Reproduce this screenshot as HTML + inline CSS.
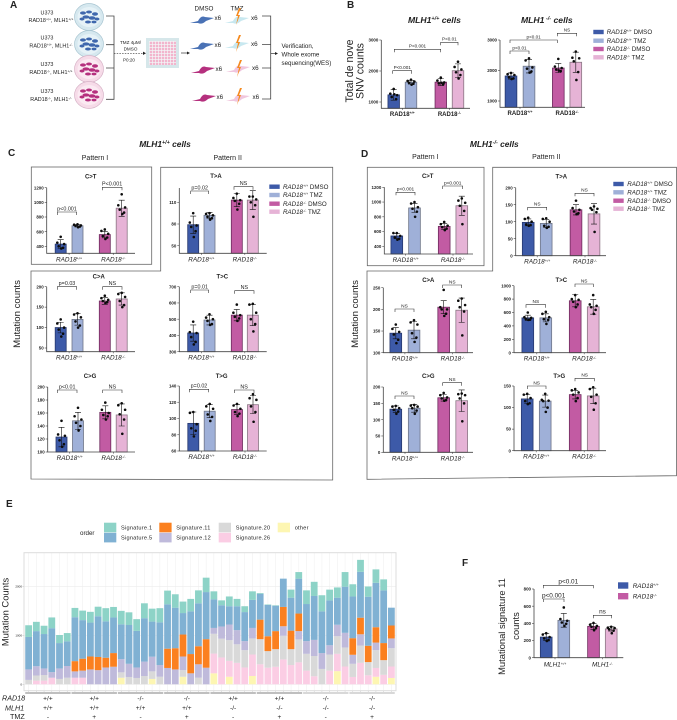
<!DOCTYPE html>
<html lang="en">
<head>
<meta charset="utf-8">
<title>RAD18 MLH1 mutation figure</title>
<style>
html,body{margin:0;padding:0;background:#fff;width:677px;height:720px;overflow:hidden}
svg{display:block;font-family:"Liberation Sans",sans-serif;filter:blur(.3px)}
text{fill:#222}
</style>
</head>
<body>
<svg id="figure" xmlns="http://www.w3.org/2000/svg" width="677" height="720" viewBox="0 0 677 720">
<defs>
<pattern id="wells" width="3" height="3" patternUnits="userSpaceOnUse"><rect width="3" height="3" fill="#f3f7f8"/><rect width="2.3" height="2.3" fill="#f2b5cd"/></pattern>
<g id="blue-dish"><ellipse rx="14.5" ry="13.5" fill="#d6e8ef" stroke="#a9c6d2" stroke-width=".7"/><ellipse rx="11.5" ry="10" fill="#e6f2f7"/><g fill="#3f67ad"><ellipse cx="-6" cy="-4" rx="3" ry="1.6"/><ellipse cx="0" cy="-5" rx="3" ry="1.5"/><ellipse cx="6" cy="-3" rx="3" ry="1.7"/><ellipse cx="-3" cy="0" rx="3.5" ry="1.6"/><ellipse cx="3" cy="1" rx="3.5" ry="1.7"/><ellipse cx="8" cy="2" rx="2.5" ry="1.5"/><ellipse cx="-7" cy="2" rx="2.5" ry="1.5"/><ellipse cx="-1" cy="5" rx="3" ry="1.5"/><ellipse cx="5" cy="5" rx="2.5" ry="1.4"/></g></g>
<g id="pink-dish"><ellipse rx="14.5" ry="13.5" fill="#f6dbe8" stroke="#d7b3c7" stroke-width=".7"/><ellipse rx="11.5" ry="10" fill="#fbeaf2"/><g fill="#b5307e"><ellipse cx="-6" cy="-4" rx="3" ry="1.6"/><ellipse cx="0" cy="-5" rx="3" ry="1.5"/><ellipse cx="6" cy="-3" rx="3" ry="1.7"/><ellipse cx="-3" cy="0" rx="3.5" ry="1.6"/><ellipse cx="3" cy="1" rx="3.5" ry="1.7"/><ellipse cx="8" cy="2" rx="2.5" ry="1.5"/><ellipse cx="-7" cy="2" rx="2.5" ry="1.5"/><ellipse cx="-1" cy="5" rx="3" ry="1.5"/><ellipse cx="5" cy="5" rx="2.5" ry="1.4"/></g></g>
<path id="spindle" d="M-12,3 L-4,1 Q-1,-5 3,-3 L12,-2 L4,1 Q0,5 -4,3 Z"/>
<path id="bolt" d="M1,-9 L-2,-1 L0,-1 L-2,8 L2,-2 L0,-2 L3,-9 Z" fill="#f58a1f"/>
</defs>

<g>
<text x="10" y="8" font-size="10" font-weight="bold">A</text>
<g font-size="5.4" text-anchor="middle" fill="#333">
<text x="47" y="14.5">U373</text><text x="51" y="22">RAD18<tspan font-size="3.5" dy="-1.5">+/+</tspan><tspan dy="1.5">, MLH1</tspan><tspan font-size="3.5" dy="-1.5">+/+</tspan></text>
<text x="47" y="39.5">U373</text><text x="51" y="47.5">RAD18<tspan font-size="3.5" dy="-1.5">+/+</tspan><tspan dy="1.5">, MLH1</tspan><tspan font-size="3.5" dy="-1.5">-/-</tspan></text>
<text x="47" y="66">U373</text><text x="51" y="74">RAD18<tspan font-size="3.5" dy="-1.5">-/-</tspan><tspan dy="1.5">, MLH1</tspan><tspan font-size="3.5" dy="-1.5">+/+</tspan></text>
<text x="47" y="93">U373</text><text x="51" y="101">RAD18<tspan font-size="3.5" dy="-1.5">-/-</tspan><tspan dy="1.5">, MLH1</tspan><tspan font-size="3.5" dy="-1.5">-/-</tspan></text>
</g>
<use href="#blue-dish" x="89" y="17"/>
<use href="#blue-dish" x="89" y="44"/>
<use href="#pink-dish" x="89" y="69"/>
<use href="#pink-dish" x="89" y="95"/>
<path d="M106,16H114V99.3H106M106,44.7H114M106,68H114" fill="none" stroke="#444" stroke-width=".8"/>
<path d="M114,53.3H143" stroke="#333" stroke-width=".7" stroke-dasharray="1.5 1.2"/>
<path d="M143,51.6L146,53.3L143,55Z" fill="#222"/>
<g font-size="4.6" text-anchor="middle"><text x="130.5" y="44">TMZ 4μM/</text><text x="130.5" y="50.5">DMSO</text><text x="129" y="61.5">P0:20</text></g>
<rect x="146" y="38" width="33" height="30" fill="#d6e7ea"/>
<rect x="149" y="41" width="27" height="24" fill="url(#wells)"/>
<path d="M181,53H187" stroke="#333" stroke-width=".7"/><path d="M187,51.5L190,53L187,54.5Z" fill="#222"/>
<text x="204" y="10.5" font-size="6.3" text-anchor="middle">DMSO</text>
<text x="237" y="10.5" font-size="6.3" text-anchor="middle">TMZ</text>
<g>
<use href="#spindle" x="202" y="20" fill="#4a72b5"/><use href="#spindle" x="202" y="46" fill="#4a72b5"/><use href="#spindle" x="203" y="70" fill="#b5307e"/><use href="#spindle" x="204" y="98" fill="#b5307e"/>
<use href="#spindle" x="237" y="20" fill="#c8e8f0"/><use href="#spindle" x="237" y="45" fill="#c8e8f0"/><use href="#spindle" x="238" y="69" fill="#f0c6de"/><use href="#spindle" x="238" y="98" fill="#f0c6de"/>
<use href="#bolt" x="238" y="17"/><use href="#bolt" x="238" y="44"/><use href="#bolt" x="239" y="69"/><use href="#bolt" x="239" y="97"/>
</g>
<g font-size="6.3">
<text x="214.5" y="20">x6</text><text x="214.5" y="47">x6</text><text x="215.5" y="71">x6</text><text x="216.5" y="99">x6</text>
<text x="251" y="20">x6</text><text x="251" y="46">x6</text><text x="252" y="70">x6</text><text x="252.5" y="99">x6</text></g>
<path d="M262,16H270.7V99H262M262,44.5H270.7M262,68H270.7" fill="none" stroke="#444" stroke-width=".8"/>
<path d="M270.7,53.5H275" stroke="#333" stroke-width=".7"/><path d="M275,52L278,53.5L275,55Z" fill="#222"/>
<g font-size="6.2"><text x="281.5" y="48">Verification,</text><text x="281.5" y="56.5">Whole exome</text><text x="281.5" y="65">sequencing(WES)</text></g>
</g>

<text x="347" y="8" font-size="10" font-weight="bold">B</text>
<text x="408" y="23" font-size="8.6" font-weight="bold" font-style="italic">MLH1<tspan font-size="5.5" dy="-3">+/+</tspan><tspan dy="3"> cells</tspan></text>
<text x="521" y="23" font-size="8.6" font-weight="bold" font-style="italic">MLH1<tspan font-size="5.5" dy="-3"> -/-</tspan><tspan dy="3"> cells</tspan></text>
<text transform="translate(353,71) rotate(-90)" font-size="10.6" text-anchor="middle">Total de nove</text>
<text transform="translate(363.5,71) rotate(-90)" font-size="10.6" text-anchor="middle">SNV counts</text>

<text x="8" y="156" font-size="10" font-weight="bold">C</text>
<text x="165" y="147" font-size="8.4" font-weight="bold" font-style="italic" text-anchor="middle">MLH1<tspan font-size="5.4" dy="-3">+/+</tspan><tspan dy="3"> cells</tspan></text>
<text x="95" y="160" font-size="7" text-anchor="middle" fill="#444">Pattern I</text>
<text x="227.7" y="160" font-size="7" text-anchor="middle" fill="#444">Pattern II</text>
<rect x="31.3" y="167" width="120.4" height="97.3" fill="none" stroke="#666" stroke-width=".8"/>
<path d="M160.7,167.3H332.7V480L31,479V271H160.7Z" fill="none" stroke="#666" stroke-width=".8"/>
<text transform="translate(20,314) rotate(-90)" font-size="9.6" text-anchor="middle" fill="#333">Mutation counts</text>

<text x="361" y="157" font-size="10" font-weight="bold">D</text>
<text x="494.3" y="147" font-size="8.4" font-weight="bold" font-style="italic" text-anchor="middle">MLH1<tspan font-size="5.4" dy="-3">-/-</tspan><tspan dy="3"> cells</tspan></text>
<text x="425.3" y="159" font-size="7" text-anchor="middle" fill="#444">Pattern I</text>
<text x="546.3" y="159" font-size="7" text-anchor="middle" fill="#444">Pattern II</text>
<rect x="367.3" y="167.3" width="116.7" height="98.4" fill="none" stroke="#666" stroke-width=".8"/>
<path d="M492.7,167.3H676.5V475.7L367,479.3V271H492.7Z" fill="none" stroke="#666" stroke-width=".8"/>
<text transform="translate(358,314) rotate(-90)" font-size="9.6" text-anchor="middle" fill="#333">Mutation counts</text>

<text x="6" y="507" font-size="10" font-weight="bold">E</text>
<text x="462" y="566" font-size="10" font-weight="bold">F</text>
<text transform="translate(5.5,612) rotate(-90)" font-size="9.4" text-anchor="middle" dy="3">Mutation Counts</text>
<g font-size="7.2" font-style="italic"><text x="2" y="700.5">RAD18</text><text x="5" y="710.5">MLH1</text><text x="10" y="719" font-style="normal">TMZ</text></g>
<text x="80" y="535" font-size="6.2">order</text>
<text transform="translate(505,626.5) rotate(-90)" font-size="9.4" text-anchor="middle">Mutational signature 11</text>
<text transform="translate(519,626) rotate(-90)" font-size="9.4" text-anchor="middle">counts</text>
<g id="charts"></g>
</svg>

<script>
/* ---------- shared categories ---------- */
const conditionNames = ['rad18-wt-dmso', 'rad18-wt-tmz', 'rad18-ko-dmso', 'rad18-ko-tmz'];
const groupLabels = ['+/+', '-/-'];

/* ---------- Panel B ---------- */
const bWtTicks = [1000, 2000, 3000];
const bWtMeans = [1230, 1640, 1640, 2010];
const bWtErrors = [170, 60, 110, 220];
const bWtDots = [[1420,1270,1220,1160,1090,1250],[1720,1680,1660,1620,1590,1560],[1790,1690,1630,1600,1570,1620],[2300,2130,2050,1960,1870,1760]];
const bKoTicks = [1000, 2000, 3000];
const bKoMeans = [1820, 2140, 2080, 2270];
const bKoErrors = [100, 220, 150, 330];
const bKoDots = [[1920,1880,1850,1780,1740,1720],[2400,2330,2100,2060,1970,1930],[2380,2130,2080,2030,1980,2000],[2620,2420,2400,2300,1950,1690]];

/* ---------- Panel C ---------- */
const cCtTicks = [400, 600, 800, 1000, 1200];
const cCtMeans = [430, 680, 560, 920];
const cCtErrors = [60, 15, 45, 110];
const cCtDots = [[530,450,430,400,380,370],[700,695,685,680,670,660],[630,610,570,540,520,500],[1110,960,930,900,860,840]];
const cTaTicks = [50, 80, 110];
const cTaMeans = [79, 92, 113, 113];
const cTaErrors = [12, 4, 9, 13];
const cTaDots = [[95,82,78,76,70,62],[95,94,92,90,88,86],[122,116,113,112,108,100],[118,118,114,110,106,90]];
const cCaTicks = [50, 100, 150, 200];
const cCaMeans = [100, 120, 165, 170];
const cCaErrors = [13, 14, 8, 15];
const cCaDots = [[120,110,100,95,85,78],[135,132,125,115,105,100],[178,172,168,165,162,160],[185,182,175,165,155,150]];
const cTcTicks = [300, 400, 500, 600, 700];
const cTcMeans = [415, 495, 525, 525];
const cTcErrors = [50, 30, 35, 65];
const cTcDots = [[485,420,415,390,360,345],[530,510,500,490,470,465],[590,540,525,515,505,490],[595,590,540,500,470,425]];
const cCgTicks = [100, 120, 140, 160, 180, 200];
const cCgMeans = [123, 148, 161, 157];
const cCgErrors = [15, 13, 10, 17];
const cCgDots = [[148,127,125,118,112,108],[168,155,150,145,140,133],[176,165,160,157,155,150],[175,172,165,158,150,128]];
const cTgTicks = [60, 80, 100, 120, 140];
const cTgMeans = [94, 109, 111, 117];
const cTgErrors = [14, 8, 6, 11];
const cTgDots = [[108,107,93,88,85,78],[118,115,112,105,102,97],[118,116,112,108,106,103],[130,125,123,115,108,96]];

/* ---------- Panel D ---------- */
const dCtTicks = [400, 600, 800, 1000, 1200];
const dCtMeans = [540, 920, 670, 950];
const dCtErrors = [35, 60, 40, 130];
const dCtDots = [[580,580,540,520,500,490],[1000,980,930,910,870,800],[730,700,680,660,640,620],[1050,1020,990,950,880,700]];
const dTaTicks = [0, 50, 100, 150, 200];
const dTaMeans = [98, 95, 135, 123];
const dTaErrors = [10, 12, 15, 30];
const dTaDots = [[112,108,100,92,90,88],[110,108,100,88,85,82],[162,140,135,130,125,122],[145,140,138,135,128,70]];
const dCaTicks = [100, 150, 200, 250];
const dCaMeans = [145, 152, 205, 198];
const dCaErrors = [13, 20, 15, 28];
const dCaDots = [[165,155,148,142,130,122],[175,170,165,145,135,125],[245,205,200,200,190,185],[225,220,210,205,195,140]];
const dTcTicks = [0, 200, 400, 600, 800, 1000];
const dTcMeans = [520, 520, 775, 685];
const dTcErrors = [40, 60, 90, 110];
const dTcDots = [[600,530,520,505,495,490],[610,580,530,500,490,430],[860,800,790,760,720,680],[860,720,700,680,640,580]];
const dCgTicks = [0, 50, 100, 150, 200];
const dCgMeans = [132, 135, 167, 158];
const dCgErrors = [10, 12, 10, 33];
const dCgDots = [[142,140,135,130,125,118],[145,143,140,135,128,118],[182,175,168,165,160,158],[180,178,175,165,150,95]];
const dTgTicks = [0, 50, 100, 150];
const dTgMeans = [120, 115, 130, 127];
const dTgErrors = [10, 14, 10, 18];
const dTgDots = [[132,130,122,115,110,108],[132,118,116,115,100,90],[143,140,135,130,122,115],[147,143,130,125,110,95]];

/* ---------- Panel F ---------- */
const fTicks = [0, 200, 400, 600, 800];
const fMeans = [240, 435, 365, 335];
const fErrors = [40, 80, 35, 25];
const fDots = [[285,270,240,225,205,195],[585,450,430,410,395,370],[405,385,370,360,345,320],[360,350,345,330,315,285]];

/* ---------- Panel E: stacked signature counts, bottom to top ---------- */
const eTicks = [0, 1000, 2000];
const eOther = [0,0,0,0,0,0, 0,0,0,0,0,0, 135,0,0,0,110,0, 0,0,155,0,0,0, 225,0,155,0,0,170, 0,0,0,0,0,0, 0,0,0,0,270,0, 0,0,0,155,0,130];
const eSig26 = [0,75,75,135,0,0, 135,135,0,0,0,0, 0,0,0,0,0,0, 0,0,0,0,0,0, 405,550,325,440,345,440, 410,340,360,510,395,450, 280,165,0,280,355,365, 150,440,185,180,195,235];
const eSig20 = [90,105,115,0,110,135, 0,0,0,0,0,0, 110,150,130,170,155,155, 0,0,135,0,135,0, 405,385,425,380,355,330, 515,340,360,485,325,470, 345,415,315,330,360,390, 270,355,270,365,300,375];
const eSig12 = [215,190,135,115,215,240, 130,145,305,290,345,360, 270,270,215,295,300,240, 335,305,280,225,275,340, 120,250,320,290,185,215, 0,0,0,195,0,170, 260,330,325,190,235,300, 185,230,0,155,0,200];
const eSig11 = [0,0,0,0,0,0, 210,245,265,270,200,280, 0,0,0,0,0,0, 395,435,450,395,370,585, 0,0,0,0,0,0, 400,305,370,395,380,360, 0,0,0,0,0,0, 340,340,335,315,350,265];
const eSig5 = [665,720,705,900,520,505, 900,790,695,835,745,730, 715,795,750,890,720,875, 910,830,440,875,880,965, 585,435,375,490,595,575, 530,640,520,580,675,715, 760,900,855,920,555,945, 855,940,1005,910,1080,365];
const eSig1 = [240,190,170,220,165,170, 190,195,220,195,270,215, 275,260,240,305,265,290, 280,275,235,255,265,295, 165,100,200,150,120,175, 15,10,10,0,165,135, 280,290,330,220,210,300, 250,245,210,275,225,0];
const eRad18 = ['+/+','+/+','-/-','-/-','+/+','+/+','-/-','-/-'];
const eMlh1 = ['+/+','+/+','+/+','+/+','-/-','-/-','-/-','-/-'];
const eTmz = ['-','+','-','+','-','+','-','+'];

/* ---------- drawing helpers (styles and layout below, never in the data) ---------- */
const NS = 'http://www.w3.org/2000/svg';
const root = document.getElementById('charts');
const FILLS = ['#3d5aa8', '#9fb0d8', '#c25ba3', '#e6b3d6'];
const EDGES = ['#27386e', '#6f7688', '#6d2a5c', '#8a7684'];
const JITTER = [0, -3.4, 3.4, -2, 2.4, 0.6];

function mk(tag, attrs, parent) {
  const el = document.createElementNS(NS, tag);
  for (const k in attrs) el.setAttribute(k, attrs[k]);
  (parent || root).appendChild(el);
  return el;
}
function supLabel(parent, x, y, size, sup, base, opts) {
  const t = mk('text', Object.assign({x: x, y: y, 'font-size': size}, opts || {}), parent);
  t.appendChild(document.createTextNode(base));
  const s = mk('tspan', {'font-size': size * 0.6, dy: -size * 0.3}, t);
  s.textContent = sup;
  return t;
}

function drawPanel(name, layout, ticks, means, errors, dots, opts) {
  const g = mk('g', {});
  
  
  const t0 = ticks[0], tN = ticks[ticks.length - 1];
  const y = v => layout.firstTickY + (v - t0) * (layout.lastTickY - layout.firstTickY) / (tN - t0);
  const w = layout.barWidth || 11;

  means.forEach((m, i) => {
    const cx = layout.barX[i];
    const top = y(m);
    const bar = mk('rect', {x: cx - w / 2, y: top, width: w, height: Math.max(0, layout.baseY - top), fill: FILLS[i], stroke: EDGES[i], 'stroke-width': .8}, g);
    
    
  });
  means.forEach((m, i) => {
    const cx = layout.barX[i];
    const hi = y(m + errors[i]), lo = y(m - errors[i]);
    const err = mk('path', {d: `M${cx},${hi}V${lo}M${cx - 3},${hi}H${cx + 3}M${cx - 3},${lo}H${cx + 3}`, fill: 'none', stroke: '#111', 'stroke-width': .6}, g);
    
    
    dots[i].forEach((d, j) => {
      const dot = mk('circle', {cx: cx + JITTER[j % JITTER.length], cy: y(d), r: 1.3, fill: '#0c0c0c'}, g);
      
      
    });
  });

  const axis = mk('path', {d: `M${layout.axisX},${Math.min(y(tN), layout.topY || 1e9)}V${layout.baseY}H${layout.endX}`, fill: 'none', stroke: '#444', 'stroke-width': .8}, g);
  
  
  ticks.forEach(tv => {
    const ty = y(tv);
    mk('path', {d: `M${layout.axisX - 2},${ty}H${layout.axisX}`, stroke: '#444', 'stroke-width': .6}, g);
    const lab = mk('text', {x: layout.axisX - 3, y: ty + 1.6, 'font-size': opts.tickSize || 4.4, 'font-weight': 'bold', 'text-anchor': 'end', fill: '#333'}, g);
    lab.textContent = tv;
    
    
  });

  [0, 1].forEach(k => {
    const mid = (layout.barX[k * 2] + layout.barX[k * 2 + 1]) / 2;
    mk('path', {d: `M${mid},${layout.baseY}v1.6`, stroke: '#444', 'stroke-width': .6}, g);
    const base = opts.labelBase || 'RAD18';
    const lab = supLabel(g, mid + (opts.labelShift || 0), layout.baseY + (opts.labelDy || 8), opts.labelSize || 6.4, (opts.labelSups || groupLabels)[k], base, {
      'text-anchor': 'middle',
      'font-style': opts.upright ? 'normal' : 'italic',
      'font-weight': opts.upright ? 'bold' : 'normal',
      fill: '#333'
    });
    
    
  });

  (layout.brackets || []).forEach(b => {
    const br = mk('path', {d: `M${b[0]},${b[2] + 3}V${b[2]}H${b[1]}V${b[2] + 3}`, fill: 'none', stroke: '#333', 'stroke-width': .6}, g);
    
    
    const lt = mk('text', {x: (b[0] + b[1]) / 2, y: b[2] - 1.6, 'font-size': b[4] || opts.pSize || 5.4, 'text-anchor': 'middle', fill: '#333'}, g);
    lt.textContent = b[3];
    
    
  });

  if (layout.title) {
    const tt = mk('text', {x: layout.title[0], y: layout.title[1], 'font-size': 6, 'font-weight': 'bold', 'text-anchor': 'middle'}, g);
    tt.textContent = layout.title[2];
    
    
  }
}

function drawLegend(name, swatchX, textX, rows, labels) {
  const g = mk('g', {});
  
  
  labels.forEach((lab, i) => {
    const sw = mk('rect', {x: swatchX, y: rows[i] - 2.2, width: 10.4, height: 4.4, fill: FILLS[i]}, g);
    
    
    const t = mk('text', {x: textX, y: rows[i] + 2.2, 'font-size': 6.2, fill: '#333'}, g);
    
    
    const it = mk('tspan', {'font-style': 'italic'}, t);
    it.textContent = 'RAD18';
    const s = mk('tspan', {'font-size': 3.6, dy: -2, 'font-style': 'italic'}, t);
    s.textContent = lab[0];
    const r = mk('tspan', {dy: 2}, t);
    r.textContent = ' ' + lab[1];
  });
}

/* ---------- Panel B ---------- */
const upB = {upright: true, labelSize: 6, labelDy: 7.5, pSize: 4.6};
drawPanel('b-mlh1-wt', {axisX: 381.3, baseY: 108.3, endX: 470, firstTickY: 102, lastTickY: 40, barWidth: 11.5, barX: [393.7, 411, 440.8, 458],
  brackets: [[392.7,411.7,70.7,'P<0.001'],[394.3,440.7,49.3,'P<0.001'],[440.7,458,42.3,'P<0.01']]}, bWtTicks, bWtMeans, bWtErrors, bWtDots, upB);
drawPanel('b-mlh1-ko', {axisX: 500, baseY: 107.3, endX: 585, firstTickY: 101, lastTickY: 40, barWidth: 11.7, barX: [511, 529, 558.3, 575.8],
  brackets: [[510,529,51,'p<0.01'],[510,557.3,40,'p<0.01'],[557.3,576.7,33.3,'NS']]}, bKoTicks, bKoMeans, bKoErrors, bKoDots, upB);
const legendLabels = [['+/+','DMSO'],['+/+','TMZ'],['-/-','DMSO'],['-/-','TMZ']];
drawLegend('b-legend', 593.3, 606.7, [32, 40.7, 49, 57.3], legendLabels);

/* ---------- Panel C ---------- */
const itC = {labelSize: 6.4, labelDy: 8, pSize: 5.4};
const cLeft = [60.7, 77.5, 104.8, 121.7], cRight = [193.2, 209.5, 236.8, 252.8];
drawPanel('c-c-to-t', {axisX: 46.7, baseY: 253.3, endX: 135, firstTickY: 246.3, lastTickY: 187.7, barX: cLeft, title: [90.7,178.5,'C>T'],
  brackets: [[57.3,76.7,212,'p<0.001'],[102.3,122,187.3,'P<0.001']]}, cCtTicks, cCtMeans, cCtErrors, cCtDots, itC);
drawPanel('c-t-to-a', {axisX: 179.3, baseY: 253.3, endX: 266.7, topY: 188, firstTickY: 245.7, lastTickY: 202.3, barX: cRight, title: [216,178,'T>A'],
  brackets: [[190.7,208.7,191,'p=0.02'],[234,253,186.7,'NS']]}, cTaTicks, cTaMeans, cTaErrors, cTaDots, itC);
drawPanel('c-c-to-a', {axisX: 46.7, baseY: 351.7, endX: 135, firstTickY: 348, lastTickY: 286.7, barX: cLeft, title: [98.7,278.5,'C>A'],
  brackets: [[57.3,76.7,286.7,'p=0.03'],[102.7,122,286.7,'NS']]}, cCaTicks, cCaMeans, cCaErrors, cCaDots, itC);
drawPanel('c-t-to-c', {axisX: 179.3, baseY: 351.7, endX: 266.7, firstTickY: 351.7, lastTickY: 286.7, barX: cRight, title: [222.3,278.5,'T>C'],
  brackets: [[190.7,208.7,290,'p=0.01'],[234.7,254,290.7,'NS']]}, cTcTicks, cTcMeans, cTcErrors, cTcDots, itC);
drawPanel('c-c-to-g', {axisX: 47.7, baseY: 452, endX: 135, firstTickY: 452, lastTickY: 387, barX: [61.5, 78, 105.3, 121.7], title: [90,378,'C>G'],
  brackets: [[57.3,77,390,'p<0.01'],[102.7,122,390,'NS']]}, cCgTicks, cCgMeans, cCgErrors, cCgDots, itC);
drawPanel('c-t-to-g', {axisX: 179.3, baseY: 451, endX: 266.7, firstTickY: 451, lastTickY: 386, barX: [193.3, 209.7, 237, 253], title: [221.7,378,'T>G'],
  brackets: [[189.3,208.7,389.3,'p=0.02'],[234.3,254,390,'NS']]}, cTgTicks, cTgMeans, cTgErrors, cTgDots, itC);
drawLegend('c-legend', 269.3, 283, [186.7, 195, 203.7, 211.7], legendLabels);

/* ---------- Panel D ---------- */
const itD = {labelSize: 6.4, labelDy: 8, pSize: 4.8};
drawPanel('d-c-to-t', {axisX: 384.3, baseY: 254, endX: 473, firstTickY: 246.3, lastTickY: 187.3, barWidth: 11.7, barX: [396.8, 414.5, 444.2, 461.8], title: [427.7,178,'C>T'],
  brackets: [[396,415,192.3,'p<0.001'],[442.7,462.7,186,'p<0.001']]}, dCtTicks, dCtMeans, dCtErrors, dCtDots, itD);
drawPanel('d-t-to-a', {axisX: 515.7, baseY: 255.7, endX: 606, firstTickY: 255.7, lastTickY: 187.7, barWidth: 11.7, barX: [528.2, 546.2, 576, 594], title: [561.3,178.5,'T>A'],
  brackets: [[527.7,546.7,207.3,'NS'],[575,594,193.3,'NS']]}, dTaTicks, dTaMeans, dTaErrors, dTaDots, itD);
drawPanel('d-c-to-a', {axisX: 383.3, baseY: 352.7, endX: 473, firstTickY: 352.7, lastTickY: 287.7, barWidth: 11.7, barX: [395.8, 414, 443.7, 461.7], title: [428.3,282,'C>A'],
  brackets: [[395,414,309,'NS'],[442.7,461.7,285,'NS']]}, dCaTicks, dCaMeans, dCaErrors, dCaDots, itD);
drawPanel('d-t-to-c', {axisX: 514, baseY: 352.7, endX: 606, firstTickY: 352.7, lastTickY: 285.7, barWidth: 11.7, barX: [527.8, 545.8, 575.2, 593.2], title: [561.3,282,'T>C'],
  brackets: [[526,545.7,304.7,'NS'],[575,593.3,284,'NS']]}, dTcTicks, dTcMeans, dTcErrors, dTcDots, itD);
drawPanel('d-c-to-g', {axisX: 383.3, baseY: 452.3, endX: 473, firstTickY: 452.3, lastTickY: 387, barWidth: 11.7, barX: [395.8, 414.2, 443.7, 461.7], title: [428.3,378,'C>G'],
  brackets: [[395,414,396,'NS'],[442.7,461.7,382.7,'NS']]}, dCgTicks, dCgMeans, dCgErrors, dCgDots, itD);
drawPanel('d-t-to-g', {axisX: 514, baseY: 450.7, endX: 606, firstTickY: 450.7, lastTickY: 386, barWidth: 11.7, barX: [527.2, 545.2, 575.2, 593.2], title: [559.3,378,'T>G'],
  brackets: [[527.3,546,386,'NS'],[575,594.3,378.3,'NS']]}, dTgTicks, dTgMeans, dTgErrors, dTgDots, itD);
drawLegend('d-legend', 613.3, 627.3, [184, 192.3, 200.7, 208.7], legendLabels);

/* ---------- Panel F ---------- */
drawPanel('f-signature-11', {axisX: 534, baseY: 657.7, endX: 623.3, firstTickY: 657.7, lastTickY: 589, barWidth: 11.7, barX: [546.2, 563.8, 593.5, 611.2],
  brackets: [[543.3,564,599,'p<0.001',6.4],[543.3,593.3,585.3,'p<0.01',6.4],[593.3,611.7,615.3,'ns',6.4]]},
  fTicks, fMeans, fErrors, fDots, {labelBase: 'MLH1', labelSups: ['+/+','-/-'], labelSize: 6.4, labelDy: 9});
[[582.3, 0, '+/+'], [593, 2, '-/-']].forEach(row => {
  const sw = mk('rect', {x: 618, y: row[0], width: 10.3, height: 6.4, fill: FILLS[row[1]]});
  
  
  const t = supLabel(root, 632.7, row[0] + 5.6, 6.4, row[2], 'RAD18', {'font-style': 'italic', fill: '#333'});
  
  
});

/* ---------- Panel E: stacked bars ---------- */
(function drawStack() {
  const g = mk('g', {});
  
  
  const left = 24, right = 396, top = 552.7, bottom = 690.7;
  const y = v => 684.3 - v * (684.3 - 586.7) / 2000;
  const n = eSig1.length;
  const step = (right - left) / (n + 0.2);
  const xc = i => left + (i + 0.6) * step;
  const bw = step * 0.88;

  for (let i = 0; i < n; i++) {
    mk('path', {d: `M${xc(i)},${top}V${bottom}`, stroke: '#f1f1f1', 'stroke-width': .6}, g);
  }
  eTicks.forEach(t => {
    mk('path', {d: `M${left},${y(t)}H${right}`, stroke: '#ececec', 'stroke-width': .6}, g);
    mk('path', {d: `M${left - 1.5},${y(t)}H${left}`, stroke: '#999', 'stroke-width': .4}, g);
    const lab = mk('text', {x: left - 2, y: y(t) + 1, 'font-size': 3, 'text-anchor': 'end', fill: '#666'}, g);
    lab.textContent = t;
    
    
  });

  const layers = [
    [eOther, '#fdf6b2', 'other'],
    [eSig26, '#fbcde4', 'signature-26'],
    [eSig20, '#d9d9d9', 'signature-20'],
    [eSig12, '#bfbadb', 'signature-12'],
    [eSig11, '#fb801f', 'signature-11'],
    [eSig5, '#80b1d3', 'signature-5'],
    [eSig1, '#8dd3c7', 'signature-1']
  ];
  for (let i = 0; i < n; i++) {
    let acc = 0;
    layers.forEach(layer => {
      const v = layer[0][i];
      if (!v) return;
      const seg = mk('rect', {x: xc(i) - bw / 2, y: y(acc + v), width: bw, height: y(acc) - y(acc + v), fill: layer[1]}, g);
      
      
      acc += v;
    });
    mk('path', {d: `M${xc(i)},${bottom}v1.2`, stroke: '#aaa', 'stroke-width': .4}, g);
  }
  const frame = mk('rect', {x: left, y: top, width: right - left, height: bottom - top, fill: 'none', stroke: '#dcdcdc', 'stroke-width': 1}, g);
  
  

  eRad18.forEach((lab, k) => {
    const a = xc(k * 6) - bw / 2, b = xc(k * 6 + 5) + bw / 2, mid = (a + b) / 2;
    const line = mk('path', {d: `M${a},693H${b}`, stroke: k < 6 ? '#555' : '#999', 'stroke-width': .8}, g);
    
    
    [[lab, 700.5], [eMlh1[k], 710], [eTmz[k], 719]].forEach(row => {
      const t = mk('text', {x: mid, y: row[1], 'font-size': 6.6, 'text-anchor': 'middle', fill: '#333'}, g);
      t.textContent = row[0];
      
      
    });
  });

  [[104, 522.7, '#8dd3c7', 'Signature.1'], [104, 532.8, '#80b1d3', 'Signature.5'],
   [159.3, 522.7, '#fb801f', 'Signature.11'], [159.3, 532.8, '#bfbadb', 'Signature.12'],
   [218.7, 522.7, '#d9d9d9', 'Signature.20'], [218.7, 532.8, '#fbcde4', 'Signature.26'],
   [277.7, 522.7, '#fdf6b2', 'other']].forEach(e => {
    const sw = mk('rect', {x: e[0], y: e[1], width: 12.3, height: 9.6, fill: e[2]}, g);
    
    
    const t = mk('text', {x: e[0] + 17, y: e[1] + 6.8, 'font-size': 5.6, 'letter-spacing': '.25', fill: '#333'}, g);
    t.textContent = e[3];
    
    
  });
})();
</script>
</body>
</html>
